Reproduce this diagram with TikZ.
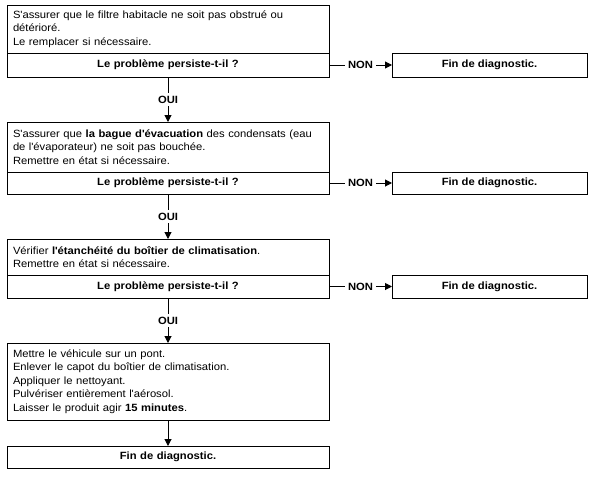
\documentclass[tikz,border=0pt]{standalone}
\usepackage{fontspec}
\setmainfont{Liberation Sans}[FakeStretch=1.07]
\usetikzlibrary{arrows.meta}
\newcommand\ap{\textquotesingle}
\begin{document}
\begin{tikzpicture}[x=1pt,y=-1pt,line width=1pt,
  box/.style={draw, rectangle, anchor=north west, outer sep=0pt,
    minimum width=322pt, text width=310pt, inner xsep=6pt, inner ysep=0pt,
    font=\fontsize{10.5}{13.5}\selectfont},
  act/.style={box, align=left},
  qst/.style={box, align=center, font=\fontsize{10.5}{13.5}\selectfont\bfseries},
  fin/.style={draw, rectangle, anchor=west, outer sep=0pt, minimum width=195pt,
    inner sep=0pt, font=\fontsize{10.5}{13.5}\selectfont\bfseries},
  arr/.style={-{Triangle[length=7pt,width=7pt]}},
  lbl/.style={fill=white, inner sep=3pt, font=\fontsize{10.5}{13.5}\selectfont\bfseries}
]
\useasboundingbox (0,0) rectangle (594,479);

\node[act, minimum height=48pt] (a1) at (7,5)
  {S\ap assurer que le filtre habitacle ne soit pas obstrué ou\\ détérioré.\\ Le remplacer si nécessaire.};
\node[qst, minimum height=24pt] (q1) at (7,53) {Le problème persiste-t-il ?};
\node[fin, minimum height=24pt] (f1) at ([xshift=63pt]q1.east) {Fin de diagnostic.};

\node[act, minimum height=50pt] (a2) at (7,122)
  {S\ap assurer que \textbf{la bague d\ap évacuation} des condensats (eau\\ de l\ap évaporateur) ne soit pas bouchée.\\ Remettre en état si nécessaire.};
\node[qst, minimum height=22pt] (q2) at (7,172) {Le problème persiste-t-il ?};
\node[fin, minimum height=22pt] (f2) at ([xshift=63pt]q2.east) {Fin de diagnostic.};

\node[act, minimum height=36pt] (a3) at (7,239)
  {Vérifier \textbf{l\ap étanchéité du boîtier de climatisation}.\\ Remettre en état si nécessaire.};
\node[qst, minimum height=23pt] (q3) at (7,275) {Le problème persiste-t-il ?};
\node[fin, minimum height=23pt] (f3) at ([xshift=63pt]q3.east) {Fin de diagnostic.};

\node[act, minimum height=77pt] (a4) at (7,343)
  {Mettre le véhicule sur un pont.\\ Enlever le capot du boîtier de climatisation.\\ Appliquer le nettoyant.\\ Pulvériser entièrement l\ap aérosol.\\ Laisser le produit agir \textbf{15 minutes}.};
\node[qst, minimum height=22pt] (f4) at (7,446) {Fin de diagnostic.};

\draw[arr] (q1.east) -- node[lbl]{NON} (f1.west);
\draw[arr] (q2.east) -- node[lbl]{NON} (f2.west);
\draw[arr] (q3.east) -- node[lbl]{NON} (f3.west);
\draw[arr] (q1.south) -- node[lbl]{OUI} (a2.north);
\draw[arr] (q2.south) -- node[lbl]{OUI} (a3.north);
\draw[arr] (q3.south) -- node[lbl]{OUI} (a4.north);
\draw[arr] (a4.south) -- (f4.north);
\end{tikzpicture}
\end{document}
